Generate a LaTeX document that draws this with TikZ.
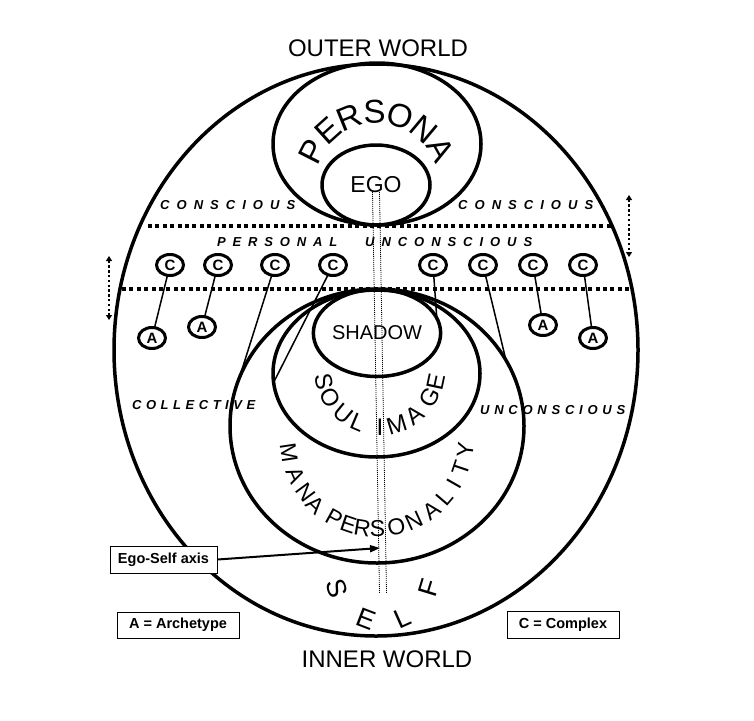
\documentclass[tikz,border=0pt]{standalone}
\usepackage{fontspec}
\setmainfont{Liberation Sans}
\usetikzlibrary{shapes.geometric,arrows.meta}
\tikzset{
  ell/.style={ellipse, draw, line width=3.5pt, inner sep=0pt, outer sep=0pt},
  cx/.style={ellipse, draw, line width=3pt, minimum width=27pt, minimum height=21pt, inner sep=0pt, outer sep=0pt, fill=white, font=\bfseries\fontsize{15}{15}\selectfont},
  link/.style={line width=1.5pt},
  dotsep/.style={line width=4pt, dash pattern=on 4pt off 3.4pt},
  smallarrow/.style={line width=2.4pt, dash pattern=on 2.4pt off 2.4pt, {Triangle[length=5pt,width=6pt]}-{Triangle[length=5pt,width=6pt]}},
  axisline/.style={line width=0.8pt, dash pattern=on 1pt off 1pt},
  spaced/.style={font=\bfseries\itshape\fontsize{13}{13}\selectfont, inner sep=0pt, anchor=west},
  legend/.style={draw, line width=1pt, fill=white, inner sep=0pt, font=\bfseries\fontsize{14.5}{14.5}\selectfont},
  arcletter/.style={inner sep=0pt},
  world/.style={inner sep=0pt, font=\fontsize{24}{24}\selectfont},
}
\begin{document}
\begin{tikzpicture}[x=1pt,y=1pt]
\useasboundingbox (0,0) rectangle (754,-720);
% ellipses
\node[ell, minimum width=524pt, minimum height=572pt] (self) at (376,-350) {};
\node[ell, minimum width=208pt, minimum height=162pt] (persona) at (377,-144) {};
\node[ell, minimum width=108pt, minimum height=80pt, font=\fontsize{23}{23}\selectfont] (ego) at (376,-185) {EGO};
\node[ell, minimum width=294pt, minimum height=274pt] (mana) at (377,-426) {};
\node[ell, minimum width=207pt, minimum height=167pt] (soul) at (376.5,-373.5) {};
\node[ell, minimum width=110pt, minimum height=87pt, font=\fontsize{20}{20}\selectfont] (shadow) at (377,-333) {SHADOW};
% world labels
\node[world] (outer) at (378,-48) {OUTER WORLD};
\node[world] (inner) at (387,-659) {INNER WORLD};
% dotted separators
\coordinate (l1a) at (148,-226); \coordinate (l1b) at (612,-226);
\coordinate (l2a) at (122,-289); \coordinate (l2b) at (631,-289);
\draw[dotsep] (l1a) -- (l1b);
\draw[dotsep] (l2a) -- (l2b);
% small vertical arrows
\coordinate (va1) at (109,-256); \coordinate (vb1) at (109,-320);
\coordinate (va2) at (629,-195); \coordinate (vb2) at (629,-257);
\draw[smallarrow] (va1) -- (vb1);
\draw[smallarrow] (va2) -- (vb2);
% ego-self axis lines
\coordinate (ax1a) at (372.5,-192); \coordinate (ax1b) at (379.5,-593);
\coordinate (ax2a) at (379.5,-192); \coordinate (ax2b) at (386.5,-593);
\draw[axisline] (ax1a) -- (ax1b);
\draw[axisline] (ax2a) -- (ax2b);
% spaced labels
\node[spaced] (cons1) at (160,-205) {\hbox to 135pt{C\hfill O\hfill N\hfill S\hfill C\hfill I\hfill O\hfill U\hfill S}};
\node[spaced] (cons2) at (458,-205) {\hbox to 135pt{C\hfill O\hfill N\hfill S\hfill C\hfill I\hfill O\hfill U\hfill S}};
\node[spaced] (pers) at (217,-242) {\hbox to 120pt{P\hfill E\hfill R\hfill S\hfill O\hfill N\hfill A\hfill L}};
\node[spaced] (uncons1) at (365,-242) {\hbox to 167pt{U\hfill N\hfill C\hfill O\hfill N\hfill S\hfill C\hfill I\hfill O\hfill U\hfill S}};
\node[spaced] (coll) at (132,-405) {\hbox to 123pt{C\hfill O\hfill L\hfill L\hfill E\hfill C\hfill T\hfill I\hfill V\hfill E}};
\node[spaced] (uncons2) at (480,-410) {\hbox to 145pt{U\hfill N\hfill C\hfill O\hfill N\hfill S\hfill C\hfill I\hfill O\hfill U\hfill S}};
% complexes and archetypes
\node[cx] (c1) at (170,-265) {C};
\node[cx] (c2) at (218,-265) {C};
\node[cx] (c3) at (275,-265) {C};
\node[cx] (c4) at (333,-265) {C};
\node[cx] (c5) at (433,-265) {C};
\node[cx] (c6) at (483,-265) {C};
\node[cx] (c7) at (533,-265) {C};
\node[cx] (c8) at (583,-265) {C};
\node[cx] (a1) at (152,-338) {A};
\node[cx] (a2) at (202,-327) {A};
\node[cx] (a3) at (543,-325) {A};
\node[cx] (a4) at (593,-338) {A};
\draw[link] (c1) -- (a1);
\draw[link] (c2) -- (a2);
\draw[link] (c7) -- (a3);
\draw[link] (c8) -- (a4);
\draw[link] (c3) -- (mana.161);
\draw[link] (c4) -- (soul.185);
\draw[link] (c5) -- (shadow.14);
\draw[link] (c6) -- (mana.27);
% curved texts
\foreach \ang/\ch [count=\i] in {153/P,132/E,112/R,92/S,71/O,50/N,29/A}
  \node[arcletter, font=\fontsize{33}{33}\selectfont, rotate={\ang-90}] (per\i) at ([shift={(\ang:73)}]377,-185) {\ch};
\foreach \ang/\ch [count=\i] in {191.7/S,209/O,230.6/U,247/L,270/I,287/M,308/A,331/G,348/E}
  \node[arcletter, font=\fontsize{24}{24}\selectfont, rotate={\ang+90}] (soul\i) at ([shift={(\ang:57)}]380,-370) {\ch};
\foreach \ang/\ch [count=\i] in {188.5/M,203.6/A,216.4/N,226.7/A,241.2/P,251.2/E,260.6/R,270.3/S,282.6/O,294.5/N,307.6/A,319.5/L,330.2/I,341.4/T,353.7/Y}
  \node[arcletter, font=\fontsize{23}{23}\selectfont, rotate={\ang+90}] (mana\i) at ([shift={(\ang:89)}]377,-440) {\ch};
\foreach \ang/\ch [count=\i] in {197/S,249/E,294/L,343/F}
  \node[arcletter, font=\fontsize{27}{27}\selectfont, rotate={\ang+90}] (self\i) at ([shift={(\ang:48)}]383,-574) {\ch};
% legends
\node[legend, minimum width=107pt, minimum height=27pt] (egobox) at (163.5,-559.5) {Ego-Self axis};
\node[legend, minimum width=122pt, minimum height=26pt] (arch) at (178,-625) {A = Archetype};
\node[legend, minimum width=112pt, minimum height=27pt] (compl) at (563,-624.5) {C = Complex};
\coordinate (axpt) at (380,-548);
\draw[line width=2pt, -{Triangle[length=10pt,width=7pt]}] (egobox.east) -- (axpt);
\end{tikzpicture}
\end{document}
